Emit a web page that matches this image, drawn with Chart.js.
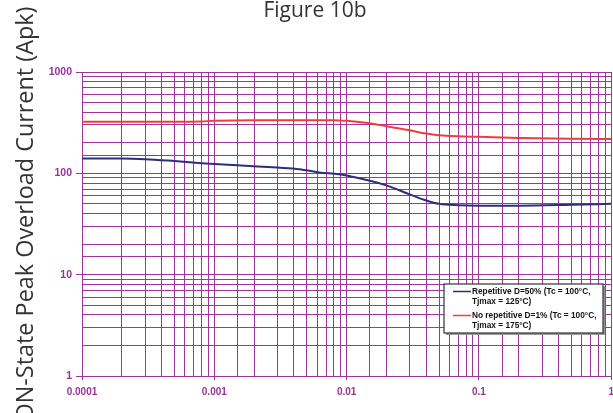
<!DOCTYPE html>
<html><head><meta charset="utf-8">
<script src="https://cdn.jsdelivr.net/npm/chart.js"></script>
<style>html,body{margin:0;padding:0;overflow:hidden;background:#fff}#wrap{width:620px;height:413px}</style>
</head><body><div id="wrap"><canvas id="c" width="620" height="413"></canvas></div>
<script>
const chartTitle = 'Figure 10b';
const yAxisTitle = 'ON-State Peak Overload Current (Apk)';
const seriesNames = ['Repetitive D=50% (Tc = 100°C,\nTjmax = 125°C)', 'No repetitive D=1% (Tc = 100°C,\nTjmax = 175°C)'];
const xTickLabels = ['0.0001', '0.001', '0.01', '0.1', '1'];
const yTickLabels = ['1', '10', '100', '1000'];
const repetitiveX = [0.0001, 0.0002, 0.0003, 0.0005, 0.0008, 0.0015, 0.003, 0.0044, 0.0062, 0.0087, 0.01, 0.02, 0.03, 0.04, 0.05, 0.07, 0.1, 0.2, 0.5, 1];
const repetitiveY = [140, 140, 138, 132, 126, 120, 114, 110, 102, 98, 95, 76, 62, 54, 50, 48.5, 48, 48, 49, 50];
const noRepX = [0.0001, 0.0005, 0.0008, 0.001, 0.002, 0.005, 0.008, 0.01, 0.014, 0.02, 0.03, 0.04, 0.05, 0.07, 0.1, 0.2, 0.5, 1];
const noRepY = [322, 322, 325, 330, 335, 335, 335, 330, 315, 292, 266, 247, 238, 232, 229, 223, 220, 218];
const seriesColors = ['#2b2f7e', '#f03c3c'];

const gridColor = '#9f3598';
const labelColor = '#993399';
function isMajor(v){ const l = Math.log10(v); return Math.abs(l - Math.round(l)) < 1e-6; }
function findLabel(list, v){ return list.find(l => Math.abs(Number(l) - v) / v < 1e-6) || ''; }

const titles = {
  id: 'titles',
  afterDraw(chart){
    const ctx = chart.ctx;
    ctx.save();
    ctx.fillStyle = '#333';
    ctx.textAlign = 'center';
    ctx.textBaseline = 'alphabetic';
    ctx.font = '21px "Open Sans", sans-serif';
    ctx.fillText(chartTitle, 315, 17);
    ctx.translate(32.5, 214);
    ctx.rotate(-Math.PI / 2);
    ctx.scale(0.975, 1);
    ctx.font = '24px "Open Sans", sans-serif';
    ctx.fillText(yAxisTitle, 0, 0);
    ctx.restore();
  }
};

const boxLegend = {
  id: 'boxLegend',
  afterDraw(chart){
    const ctx = chart.ctx;
    const x0 = 444, y0 = 284, w = 159, h = 49;
    ctx.save();
    ctx.fillStyle = '#999';
    ctx.fillRect(x0 + 2, y0 + 2, w, h);
    ctx.fillStyle = '#fff';
    ctx.fillRect(x0, y0, w, h);
    ctx.strokeStyle = '#333';
    ctx.lineWidth = 1.2;
    ctx.strokeRect(x0, y0, w, h);
    ctx.font = 'bold 8.3px "Liberation Sans", Arial, sans-serif';
    ctx.textBaseline = 'middle';
    ctx.fillStyle = '#111';
    chart.data.datasets.forEach((ds, i) => {
      const ly = y0 + 7.5 + i * 24;
      ctx.strokeStyle = ds.borderColor;
      ctx.lineWidth = 1.5;
      ctx.beginPath(); ctx.moveTo(x0 + 9, ly); ctx.lineTo(x0 + 27, ly); ctx.stroke();
      ds.label.split('\n').forEach((t, j) => ctx.fillText(t, x0 + 28, ly + j * 10));
    });
    ctx.restore();
  }
};

new Chart(document.getElementById('c'), {
  type: 'line',
  data: {
    datasets: [
      { label: seriesNames[0], data: repetitiveX.map((x, i) => ({x, y: repetitiveY[i]})), borderColor: seriesColors[0], backgroundColor: seriesColors[0], borderWidth: 2, pointRadius: 0, cubicInterpolationMode: 'monotone' },
      { label: seriesNames[1], data: noRepX.map((x, i) => ({x, y: noRepY[i]})), borderColor: seriesColors[1], backgroundColor: seriesColors[1], borderWidth: 2, pointRadius: 0, cubicInterpolationMode: 'monotone' }
    ]
  },
  options: {
    responsive: false,
    animation: false,
    events: [],
    layout: { padding: { left: 0, right: 6, top: 72, bottom: 0 } },
    plugins: {
      legend: { display: false },
      tooltip: { enabled: false },
      title: { display: false }
    },
    scales: {
      x: {
        type: 'logarithmic', min: 0.0001, max: 1,
        afterFit(s){ s.height = 37; },
        border: { color: gridColor, width: 1 },
        grid: { color: gridColor, lineWidth: 1, tickLength: 4, tickColor: c => isMajor(c.tick.value) ? gridColor : 'rgba(0,0,0,0)' },
        ticks: { autoSkip: false, maxRotation: 0, padding: 6, color: labelColor, font: { family: '"Liberation Sans", Arial, sans-serif', size: 10, weight: 'bold' }, callback: v => isMajor(v) ? findLabel(xTickLabels, v) : '' }
      },
      y: {
        type: 'logarithmic', min: 1, max: 1000,
        afterFit(s){ s.width = 82; },
        border: { color: gridColor, width: 1 },
        grid: { color: gridColor, lineWidth: 1, tickLength: 6, tickColor: c => isMajor(c.tick.value) ? gridColor : 'rgba(0,0,0,0)' },
        ticks: { autoSkip: false, padding: 4, color: labelColor, font: { family: '"Liberation Sans", Arial, sans-serif', size: 10.5, weight: 'bold' }, callback: v => isMajor(v) ? findLabel(yTickLabels, v) : '' }
      }
    }
  },
  plugins: [boxLegend, titles]
});
</script>
</body></html>
